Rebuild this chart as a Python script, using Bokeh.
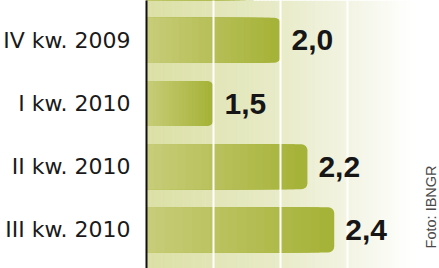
import math
from bokeh.plotting import figure
from bokeh.models import Range1d, FixedTicker, BoxAnnotation, Label
from bokeh.core.properties import value
from bokeh.embed import file_html
from bokeh.resources import INLINE

# ---- data ----
categories = ["III kw. 2009", "IV kw. 2009", "I kw. 2010", "II kw. 2010", "III kw. 2010"]
values = [1.8, 2.0, 1.5, 2.2, 2.4]
grid_ticks = [1.5, 2.0, 2.5, 3.0]
axis_start = 1.0
source_text = "Foto: IBNGR"

ypos = list(range(len(categories) - 1, -1, -1))
labels = [f"{v:.1f}".replace(".", ",") for v in values]


def hexc(rgb):
    return "#%02x%02x%02x" % tuple(int(round(c)) for c in rgb)


def interp(stops, x):
    if x <= stops[0][0]:
        return stops[0][1]
    for (x0, c0), (x1, c1) in zip(stops[:-1], stops[1:]):
        if x0 <= x <= x1:
            t = (x - x0) / (x1 - x0)
            return tuple(a + (b - a) * t for a, b in zip(c0, c1))
    return stops[-1][1]


x_end = 3.185
y_top = 3.63
p = figure(width=439, height=268, output_backend="svg", toolbar_location=None,
           x_range=Range1d(axis_start, x_end), y_range=Range1d(-0.611, y_top),
           min_border_left=144, min_border_right=0, min_border_top=0, min_border_bottom=0)
p.outline_line_color = None
p.background_fill_color = "white"
p.border_fill_color = "white"

# background horizontal gradient (green -> white)
bg_stops = [(1.0, (0xdb, 0xe0, 0xa5)), (2.0, (0xe8, 0xeb, 0xc8)),
            (2.6, (0xf5, 0xf6, 0xe8)), (3.0, (0xff, 0xff, 0xff))]
nstrip = 80
for i in range(nstrip):
    a = axis_start + (x_end - axis_start) * i / nstrip
    b = axis_start + (x_end - axis_start) * (i + 1) / nstrip + 0.004
    col = hexc(interp(bg_stops, (a + b) / 2))
    p.add_layout(BoxAnnotation(left=a, right=b, fill_color=col, fill_alpha=1.0,
                               line_alpha=0, level="underlay"))

# bars with per-bar gradient (light left -> darker right)
bar_light = (0xc8, 0xcd, 0x7a)
bar_dark = (0xa6, 0xb3, 0x39)
nseg = 20
p.hbar(y=ypos, left=axis_start, right=values, height=0.714, fill_color=hexc(bar_dark),
       line_color=None, border_radius=(0, 6, 6, 0))
for k in range(1, nseg):
    frac = (nseg - k) / nseg
    t = 1 - frac
    col = hexc(tuple(d + (l - d) * t for l, d in zip(bar_light, bar_dark)))
    rights = [axis_start + (v - axis_start) * frac * 0.97 for v in values]
    p.hbar(y=ypos, left=axis_start, right=rights, height=0.714, fill_color=col,
           line_color=None)

# grid (white, drawn above bars)
p.xgrid.ticker = FixedTicker(ticks=grid_ticks)
p.xgrid.grid_line_color = "white"
p.xgrid.grid_line_width = 2
p.xgrid.level = "guide"
p.ygrid.visible = False

p.xaxis.visible = False
yax = p.yaxis[0]
yax.ticker = FixedTicker(ticks=[y for y in ypos if y < y_top])
yax.major_label_overrides = {y: c for y, c in zip(ypos, categories)}
yax.axis_line_color = "#111111"
yax.axis_line_width = 2
yax.major_tick_line_color = None
yax.minor_tick_line_color = None
yax.major_label_text_font = "DejaVu Sans"
yax.major_label_text_font_size = "22px"
yax.major_label_text_color = "#1a1a1a"
yax.major_label_standoff = 10

# value labels (only bars whose label lies inside the frame)
vis = [i for i, y in enumerate(ypos) if y < y_top - 0.3]
p.text(x=[values[i] for i in vis], y=[ypos[i] for i in vis], text=[labels[i] for i in vis],
       x_offset=11, text_align="left", text_baseline="middle",
       text_font=value("Liberation Sans"),
       text_font_style="bold", text_font_size="30px", text_color="#161616",
       level="annotation")

# source note (rotated)
p.add_layout(Label(x=3.119, y=1.02, text=source_text, angle=math.pi / 2,
                   text_align="right", text_baseline="middle",
                   text_font="Liberation Sans", text_font_size="14.5px",
                   text_color="#4a4a4a"))

open("out.html", "w").write(file_html(p, INLINE))
